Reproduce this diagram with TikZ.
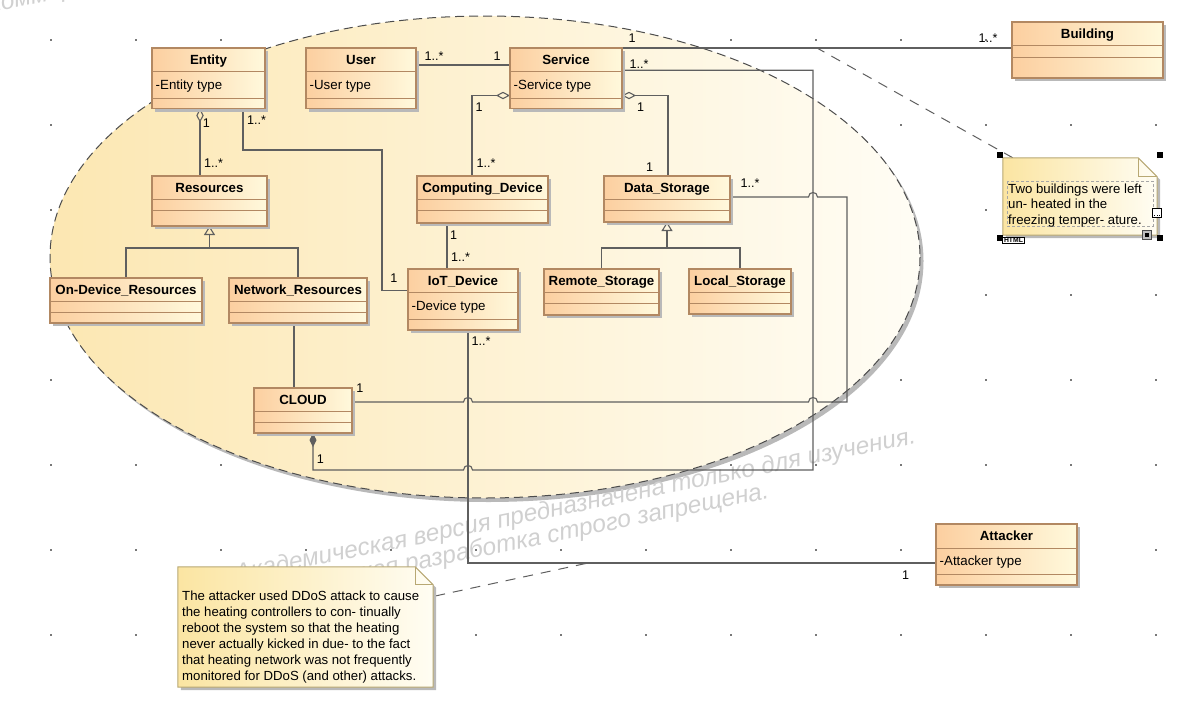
\documentclass[tikz,border=0pt]{standalone}
\usepackage{fontspec}
\setmainfont{Liberation Sans}
\newfontfamily\wmfont{Liberation Sans Italic}
\usetikzlibrary{arrows.meta,shadows}

\definecolor{clsL}{RGB}{252,207,160}
\definecolor{clsR}{RGB}{255,249,220}
\definecolor{clsEdge}{RGB}{178,136,98}
\definecolor{wire}{RGB}{95,95,95}
\definecolor{noteL}{RGB}{251,229,162}
\definecolor{noteR}{RGB}{255,253,243}
\definecolor{noteEdge}{RGB}{184,168,115}
\definecolor{ellL}{RGB}{252,231,178}
\definecolor{ellR}{RGB}{255,253,245}
\definecolor{wmark}{RGB}{208,208,208}
\definecolor{shadowgray}{RGB}{185,185,185}
\definecolor{dotgray}{RGB}{120,120,120}

\pgfdeclarelayer{back}
\pgfdeclarelayer{conn}
\pgfsetlayers{back,conn,main}

\tikzset{
  clsbox/.style={draw=clsEdge, line width=1.1pt, left color=clsL, right color=clsR,
    inner sep=0pt, outer sep=0pt,
    drop shadow={shadow xshift=3pt, shadow yshift=-3pt, fill=shadowgray, opacity=1}},
  clsline/.style={draw=clsEdge, line width=1pt},
  clstitle/.style={font=\fontsize{13.3}{15}\selectfont\bfseries, inner sep=0pt,
    text height=9.5pt, text depth=0pt},
  clsattr/.style={font=\fontsize{13.3}{15}\selectfont, inner sep=0pt,
    text height=9.5pt, text depth=0pt, anchor=west},
  mult/.style={font=\fontsize{12.6}{14}\selectfont, inner sep=0pt,
    text height=9pt, text depth=0pt},
  assoc/.style={draw=wire, line width=1.1pt},
  aggr/.style={assoc, -{Diamond[open, length=14pt, width=7.5pt]}},
  compo/.style={assoc, -{Diamond[length=14pt, width=7pt]}},
  gener/.style={assoc, -{Triangle[open, length=9pt, width=11pt]}},
  notelink/.style={draw=wire, line width=1pt, dash pattern=on 10pt off 8pt},
  notebody/.style={draw=noteEdge, line width=1pt, left color=noteL, right color=noteR,
    drop shadow={shadow xshift=3pt, shadow yshift=-3pt, fill=shadowgray, opacity=1}},
  noteedge/.style={draw=noteEdge, line width=1pt},
  notetext/.style={font=\fontsize{13.2}{16}\selectfont, inner sep=0pt, align=left},
  wmtext/.style={font=\wmfont\fontsize{24.5}{29}\selectfont, text=wmark, inner sep=0pt},
  handle/.style={fill=black},
}

% class box: name, left, top, right, bottom, divider 1, divider 2, title, attribute
\newcommand{\umlclass}[9]{%
  \node[clsbox, minimum width={#4-#2}, minimum height={#5-#3}] (#1)
    at ({(#2+#4)/2},{(#3+#5)/2}) {};
  \draw[clsline] (#2,#6) -- (#4,#6) (#2,#7) -- (#4,#7);
  \node[clstitle] (#1-title) at ({(#2+#4)/2},{(#3+#6)/2}) {#8};
  \if\relax\detokenize{#9}\relax\else
    \node[clsattr] (#1-attr) at ({#2+3.5},{(#6+#7)/2}) {#9};%
  \fi
}

\begin{document}
\begin{tikzpicture}[x=1pt,y=-1pt]
\useasboundingbox (0,0) rectangle (1200,705);

% ---------- canvas: grid, package ellipse, watermark ----------
\begin{pgfonlayer}{back}
  \foreach \gx in {51,136,...,1156}
    \foreach \gy in {40,125,...,635}
      \fill[dotgray] (\gx-0.6,\gy-0.6) rectangle (\gx+0.6,\gy+0.6);

  \fill[shadowgray] (488.5,261) ellipse [x radius=435, y radius=241];
  \draw[draw=black!70, line width=1pt, dash pattern=on 9pt off 5pt,
        left color=ellL, right color=ellR]
    (485,257) ellipse [x radius=435, y radius=241];

  \begin{scope}
    \clip (0,0) rectangle (1200,705);
    \node[wmtext, anchor=base east, rotate=11.5] (wm1) at (917,443)
      {Академическая версия предназначена только для изучения.};
    \node[wmtext, anchor=base east, rotate=11.5] (wm2) at (770,498)
      {Коммерческая разработка строго запрещена.};
    \node[wmtext, anchor=base west, rotate=11.5] (wm3) at (-12,13)
      {Коммерческая разработка строго запрещена.};
  \end{scope}
\end{pgfonlayer}

% ---------- classes ----------
\umlclass{entity}{152}{48}{265}{108.5}{71}{98}{Entity}{-Entity type}
\umlclass{user}{306}{48}{416}{108.5}{71}{98}{User}{-User type}
\umlclass{service}{510}{48}{622}{108.5}{71}{98}{Service}{-Service type}
\umlclass{res}{152}{176}{267}{226}{199}{210}{Resources}{}
\umlclass{cdev}{417}{176}{548}{223}{199}{210}{Computing\_Device}{}
\umlclass{dstore}{604}{176}{730}{222}{199}{210}{Data\_Storage}{}
\umlclass{ondev}{50}{278}{202}{323}{301}{312}{On-Device\_Resources}{}
\umlclass{netres}{229}{278}{367}{323}{301}{312}{Network\_Resources}{}
\umlclass{iot}{408}{269}{518}{330}{292}{319}{IoT\_Device}{-Device type}
\umlclass{remote}{544}{269}{659}{315}{292}{303}{Remote\_Storage}{}
\umlclass{local}{689}{269}{791}{314}{292}{303}{Local\_Storage}{}
\umlclass{cloud}{254}{388}{352}{433}{411}{422}{CLOUD}{}
\umlclass{building}{1012}{22}{1163}{78}{45}{57}{Building}{}
\umlclass{attacker}{936}{524}{1077}{585}{548}{574}{Attacker}{-Attacker type}

% ---------- notes ----------
\node[inner sep=0pt, minimum width=255, minimum height=120] (note1) at (305.5,627) {};
\draw[notebody] (note1.south west) -- (note1.north west) -- ([xshift=-18pt]note1.north east)
  -- ([yshift=-18pt]note1.north east) -- (note1.south east) -- cycle;
\draw[noteedge] ([xshift=-18pt]note1.north east) -- ([xshift=-18pt,yshift=-18pt]note1.north east)
  -- ([yshift=-18pt]note1.north east);
\node[notetext, anchor=north west] (note1-text) at (182,591)
  {The attacker used DDoS attack to cause\\
   the heating controllers to con- tinually\\
   reboot the system so that the heating\\
   never actually kicked in due- to the fact\\
   that heating network was not frequently\\
   monitored for DDoS (and other) attacks.};

\node[inner sep=0pt, minimum width=154, minimum height=77] (note2) at (1080,196.5) {};
\draw[notebody] (note2.south west) -- (note2.north west) -- ([xshift=-19pt]note2.north east)
  -- ([yshift=-19pt]note2.north east) -- (note2.south east) -- cycle;
\draw[noteedge] ([xshift=-19pt]note2.north east) -- ([xshift=-19pt,yshift=-19pt]note2.north east)
  -- ([yshift=-19pt]note2.north east);
\draw[black!35, line width=0.6pt, dash pattern=on 3pt off 2pt] (1007,181) rectangle (1153,226);
\node[notetext, anchor=north west, font=\fontsize{13.2}{15.5}\selectfont] (note2-text) at (1008,183.5)
  {Two buildings were left\\un- heated in the\\freezing temper- ature.};
% selection handles
\fill[handle] (997,151.5) rectangle (1003,157.5);
\fill[handle] (1157,151.5) rectangle (1163,157.5);
\fill[handle] (997,234.5) rectangle (1003,240.5);
\fill[handle] (1157,234.5) rectangle (1163,240.5);
\draw[black, line width=0.7pt, fill=white] (1152.5,208.5) rectangle (1161.5,217.5);
\foreach \dx in {-2.2,0,2.2} \fill[black] (1157+\dx-0.5,215) rectangle (1157+\dx+0.5,216);
\draw[black!70, line width=0.6pt, fill=black!25] (1142,230) rectangle (1151,239);
\fill[black] (1144.5,232.5) rectangle (1148.5,236.5);
\node[draw=black, line width=0.9pt, fill=white, inner xsep=1.5pt, inner ysep=1pt,
      font=\fontsize{6.8}{7}\selectfont\bfseries] (htmltag) at (1013.5,240.5) {HTML};

% ---------- connectors ----------
\coordinate (c200) at (200,0);
\coordinate (c243) at (243,0);
\coordinate (c294) at (294,0);
\coordinate (c313) at (313,0);
\coordinate (c447) at (447,0);
\coordinate (c468) at (468,0);
\coordinate (c472) at (472,0);
\coordinate (c668) at (668,0);
\coordinate (resj) at (209.5,248);
\coordinate (dsj) at (667,248);
\coordinate (n1end) at (588,563);
\coordinate (n2end) at (817,48);

\begin{pgfonlayer}{conn}
  % User -- Service
  \draw[assoc] ([yshift=13.25pt]user.east) -- ([yshift=13.25pt]service.west);
  % Service -- Building
  \draw[assoc] (service.north east) -- (building.west |- service.north east);
  % Service -- CLOUD (composition)
  \draw[compo] ([yshift=8pt]service.east) -| (813,470) -- (472.5,470)
    .. controls (472.5,464) and (463.5,464) .. (463.5,470) -| (cloud.south -| c313);
  % Data_Storage -- CLOUD
  \draw[assoc] ([yshift=2pt]dstore.east) -- (808.5,197)
    .. controls (808.5,191) and (817.5,191) .. (817.5,197) -- (847,197) -- (847,402)
    -- (817.5,402) .. controls (817.5,396) and (808.5,396) .. (808.5,402)
    -- (472.5,402) .. controls (472.5,396) and (463.5,396) .. (463.5,402)
    -- ([yshift=8.5pt]cloud.east);
  % Entity -- Resources
  \draw[aggr] (res.north -| c200) -- (entity.south -| c200);
  % Entity -- IoT_Device
  \draw[assoc] (entity.south -| c243) |- (382,150) |- ([yshift=9pt]iot.west);
  % Resources generalization
  \draw[assoc] (ondev.north) |- (resj) -| (netres.north);
  \draw[gener] (resj) -- (res.south);
  % Network_Resources -- CLOUD
  \draw[assoc] (netres.south -| c294) -- (cloud.north -| c294);
  % Service -- Computing_Device / Data_Storage
  \draw[aggr] (cdev.north -| c472) |- ([yshift=-17.25pt]service.west);
  \draw[aggr] (dstore.north -| c668) |- ([yshift=-17.25pt]service.east);
  % Computing_Device -- IoT_Device
  \draw[assoc] (cdev.south -| c447) -- (iot.north -| c447);
  % Data_Storage generalization
  \draw[assoc] (remote.north) |- (dsj) -| (local.north);
  \draw[gener] (dsj) -- (dstore.south);
  % IoT_Device -- Attacker
  \draw[assoc] (iot.south -| c468) |- ([yshift=-8.5pt]attacker.west);
  % note anchors
  \draw[notelink] ([xshift=10pt]note2.north west) -- (n2end);
  \draw[notelink] ([xshift=2pt,yshift=31pt]note1.east) -- (n1end);
\end{pgfonlayer}

% ---------- multiplicities ----------
\node[mult] (m1) at (434,56) {1..*};
\node[mult] (m2) at (497,56) {1};
\node[mult] (m3) at (632,38) {1};
\node[mult] (m4) at (988,38) {1..*};
\node[mult] (m5) at (639,64) {1..*};
\node[mult] (m6) at (320.5,459) {1};
\node[mult] (m7) at (750,183) {1..*};
\node[mult] (m8) at (360,387.5) {1};
\node[mult] (m9) at (206.5,123) {1};
\node[mult] (m10) at (213.5,163) {1..*};
\node[mult] (m11) at (256.5,120) {1..*};
\node[mult] (m12) at (394,277.5) {1};
\node[mult] (m13) at (479,107) {1};
\node[mult] (m14) at (486,163) {1..*};
\node[mult] (m15) at (640.5,107) {1};
\node[mult] (m16) at (649.5,166.5) {1};
\node[mult] (m17) at (453.5,234.5) {1};
\node[mult] (m18) at (460.5,257) {1..*};
\node[mult] (m19) at (481,341) {1..*};
\node[mult] (m20) at (905.5,574.5) {1};
\end{tikzpicture}
\end{document}
